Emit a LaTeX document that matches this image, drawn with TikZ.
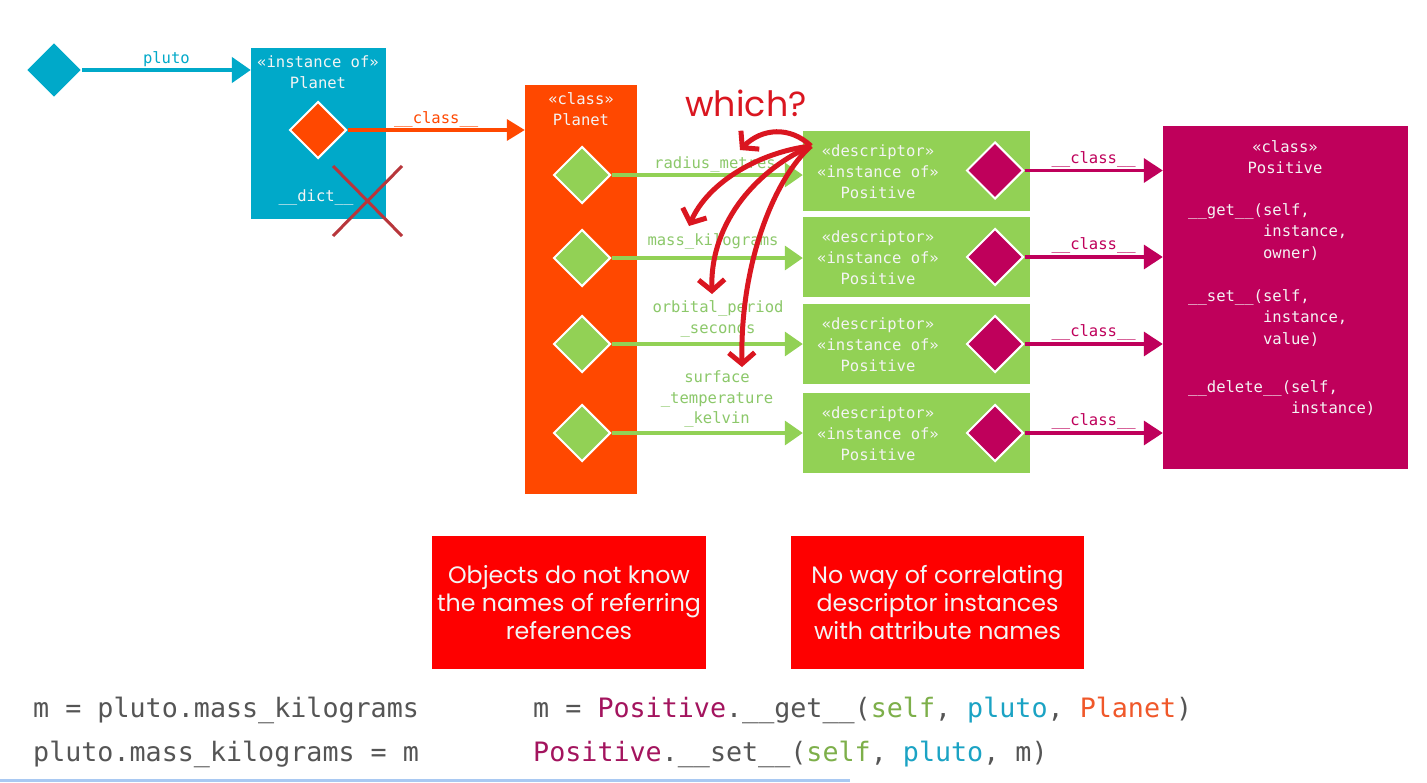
\documentclass[tikz,border=0pt]{standalone}
\usepackage{fontspec}
\setmainfont{Poppins}
\setmonofont{DejaVu Sans Mono}
\newfontfamily\whichfont{Poppins}
\usetikzlibrary{arrows.meta,shapes.geometric}
\definecolor{cblue}{HTML}{00A9C9}
\definecolor{corange}{HTML}{FF4800}
\definecolor{cgreen}{HTML}{92D155}
\definecolor{cgreentext}{HTML}{8CC86A}
\definecolor{cmag}{HTML}{BF005B}
\definecolor{cbox}{HTML}{FE0000}
\definecolor{cwhich}{HTML}{DA1620}
\definecolor{ccross}{HTML}{B8363B}
\definecolor{ccode}{HTML}{555555}
\definecolor{ccodemag}{HTML}{A3145E}
\definecolor{ccodegreen}{HTML}{7DAF4A}
\definecolor{ccodeblue}{HTML}{1BA3C4}
\definecolor{ccodeorange}{HTML}{F0582A}
\definecolor{cwhite}{HTML}{F4F4F4}
\definecolor{cbar}{HTML}{A9C9F2}
\tikzset{
  x=1bp, y=-1bp,
  rectbox/.style={rectangle, inner sep=0pt},
  dia/.style={diamond, aspect=1, inner sep=0pt, minimum width=57bp, minimum height=57bp, draw=white, line width=2bp},
  mono/.style={font=\fontsize{15.6}{21}\ttfamily, inner sep=0pt, align=center},
  bigarrow/.style={line width=4.5bp, -{Triangle[length=19bp,width=25bp]}},
  redarrow/.style={line width=5bp, cwhich, -{Straight Barb[length=11bp,width=26bp,line width=5bp]}},
  note/.style={rectbox, fill=cbox, text=cwhite, font=\fontsize{23.8}{28}\selectfont, align=center},
  code/.style={font=\fontsize{26.8}{30}\ttfamily, inner sep=0pt, anchor=mid west, text=ccode},
}
\begin{document}
\begin{tikzpicture}
\useasboundingbox (0,0) rectangle (1427,782);
\fill[white] (0,0) rectangle (1427,782);

% ---- pluto instance
\node[dia, fill=cblue, draw=none, minimum width=54bp, minimum height=54bp] (pluto) at (54,70) {};
\node[rectbox, fill=cblue, minimum width=135bp, minimum height=171bp] (inst) at (318.5,133.5) {};
\node[mono, text=cwhite] (instT) at (318,72) {«instance of»\\Planet};
\draw[bigarrow, cblue] (pluto.east) -- (inst.west |- pluto.east) node[midway, above=1bp, mono, text=cblue] {pluto};
\node[dia, fill=corange] (instd) at (318,130) {};
\node[mono, text=cwhite] (dict) at (316,197) {\_\_dict\_\_};
\coordinate (xa) at (333,166); \coordinate (xb) at (402,236);
\coordinate (xc) at (333,236); \coordinate (xd) at (402,166);
\draw[ccross, line width=3bp] (xa) -- (xb) (xc) -- (xd);

% ---- class Planet
\node[rectbox, fill=corange, minimum width=112bp, minimum height=409bp] (planet) at (581,289.5) {};
\node[mono, text=cwhite] (planetT) at (581,109) {«class»\\Planet};
\draw[bigarrow, corange, line width=3.5bp, -{Triangle[length=18bp,width=21bp]}] (instd.east) -- (planet.west |- instd.east) node[midway, above=1bp, mono, text=corange] {\_\_class\_\_};

% ---- descriptor boxes
\foreach \i/\y in {1/170.5,2/257,3/344,4/433}{
  \node[rectbox, fill=cgreen, minimum width=227bp, minimum height=80bp] (desc\i) at (916.5,\y) {};
  \node[mono, text=cwhite] (descT\i) at (878,\y+1) {«descriptor»\\«instance of»\\Positive};
  \node[dia, fill=cmag] (dm\i) at (995,\y) {};
}
\foreach \i/\y in {1/175,2/258,3/344,4/433}{
  \node[dia, fill=cgreen] (pd\i) at (582,\y) {};
}

% ---- class Positive
\node[rectbox, fill=cmag, minimum width=245bp, minimum height=343bp] (pos) at (1285.5,297.5) {};
\node[mono, text=cwhite] (posT) at (1285,157.5) {«class»\\Positive};
\node[mono, text=cwhite, anchor=north west, align=left] (posGet) at (1188,203) {\_\_get\_\_(self,\\[0.8bp]
\phantom{\_\_get\_\_(}instance,\\[0.8bp]
\phantom{\_\_get\_\_(}owner)};
\node[mono, text=cwhite, anchor=north west, align=left] (posSet) at (1188,289) {\_\_set\_\_(self,\\[0.8bp]
\phantom{\_\_set\_\_(}instance,\\[0.8bp]
\phantom{\_\_set\_\_(}value)};
\node[mono, text=cwhite, anchor=north west, align=left] (posDel) at (1188,380) {\_\_delete\_\_(self,\\[0.8bp]
\phantom{\_\_delete\_\_(}instance)};

% ---- green arrows (attribute references)
\foreach \i in {1,...,4}{
  \draw[bigarrow, cgreen, line width=3.5bp, -{Triangle[length=18bp,width=24bp]}] (pd\i.east) -- (desc\i.west |- pd\i.east);
}
\node[mono, text=cgreentext] (l1) at (715,164) {radius\_metres};
\node[mono, text=cgreentext] (l2) at (713,241) {mass\_kilograms};
\node[mono, text=cgreentext] (l3) at (718,318.5) {orbital\_period\\\_seconds};
\node[mono, text=cgreentext] (l4) at (717,399) {surface\\\_temperature\\\_kelvin};

% ---- magenta arrows
\foreach \i in {1,...,4}{
  \draw[bigarrow, cmag, line width=3.5bp, -{Triangle[length=19bp,width=24bp]}] (dm\i.east) -- (pos.west |- dm\i.east) node[midway, above=2bp, mono, text=cmag] {\_\_class\_\_};
}

% ---- which?
\node[text=cwhich, font=\fontsize{35}{40}\whichfont, inner sep=0pt] (which) at (746,103) {which?};
\coordinate (src) at (811,146);
\coordinate (t1) at (740,150);
\coordinate (t2) at (689,226);
\coordinate (t3) at (712,294);
\coordinate (t4) at (742,367);
\draw[redarrow] (src) .. controls (790,126) and (762,128) .. (t1);
\draw[redarrow] (src) .. controls (760,152) and (708,182) .. (t2);
\draw[redarrow] (src) .. controls (760,168) and (710,220) .. (t3);
\draw[redarrow] (src) .. controls (775,178) and (740,262) .. (t4);

% ---- notes
\node[note, minimum width=274bp, minimum height=133bp] (n1) at (569,602.5) {Objects do not know\\the names of referring\\references};
\node[note, minimum width=293bp, minimum height=133bp] (n2) at (937.5,602.5) {No way of correlating\\descriptor instances\\with attribute names};

% ---- code
\node[code] (c1) at (33,715) {m = pluto.mass\_kilograms};
\node[code] (c2) at (33,759) {pluto.mass\_kilograms = m};
\node[code] (c3) at (533,715) {m = \textcolor{ccodemag}{Positive}.\_\_get\_\_(\textcolor{ccodegreen}{self}, \textcolor{ccodeblue}{pluto}, \textcolor{ccodeorange}{Planet})};
\node[code] (c4) at (533,759) {\textcolor{ccodemag}{Positive}.\_\_set\_\_(\textcolor{ccodegreen}{self}, \textcolor{ccodeblue}{pluto}, m)};

% ---- progress bar
\fill[cbar] (0,779) rectangle (850,782);
\end{tikzpicture}
\end{document}
